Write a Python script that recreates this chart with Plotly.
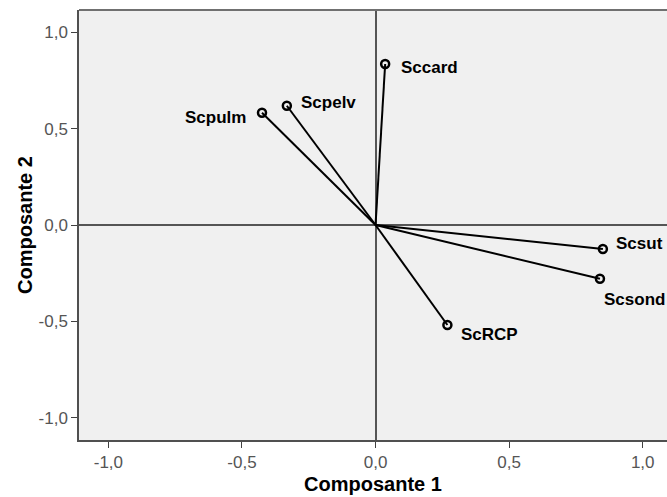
import plotly.graph_objects as go

names = ["Sccard", "Scpelv", "Scpulm", "Scsut", "Scsond", "ScRCP"]
comp1 = [0.036, -0.332, -0.425, 0.851, 0.840, 0.269]
comp2 = [0.836, 0.619, 0.583, -0.125, -0.279, -0.519]
tick_vals = [-1.0, -0.5, 0.0, 0.5, 1.0]
tick_text = ["-1,0", "-0,5", "0,0", "0,5", "1,0"]

# label placement (anchor, pixel shifts)
label_pos = {
    "Sccard": ("left", "middle", 14, -4),
    "Scpelv": ("left", "middle", 12, 3),
    "Scpulm": ("right", "middle", -14, -5),
    "Scsut": ("left", "middle", 11, 6),
    "Scsond": ("left", "top", 2, -9),
    "ScRCP": ("left", "middle", 12, -10),
}

fig = go.Figure()

lx, ly = [], []
for a, b in zip(comp1, comp2):
    lx += [0, a, None]
    ly += [0, b, None]
fig.add_trace(go.Scatter(x=lx, y=ly, mode="lines",
                         line=dict(color="black", width=2),
                         hoverinfo="skip", showlegend=False))
fig.add_trace(go.Scatter(x=comp1, y=comp2, mode="markers",
                         marker=dict(symbol="circle-open", size=8,
                                     color="black", line=dict(width=2.5, color="black")),
                         text=names, showlegend=False))

for n, a, b in zip(names, comp1, comp2):
    xa, ya, dx, dy = label_pos[n]
    fig.add_annotation(x=a, y=b, text=n, showarrow=False,
                       xanchor=xa, yanchor=ya, xshift=dx, yshift=dy,
                       font=dict(family="Liberation Sans, Arial", size=17, color="black",
                                 weight="bold"))

axis_common = dict(
    tickvals=tick_vals, ticktext=tick_text,
    ticks="outside", ticklen=6, tickwidth=1.2, tickcolor="#404040",
    tickfont=dict(family="Liberation Sans, Arial", size=17, color="#555555"),
    showgrid=False, zeroline=True, zerolinecolor="#555555", zerolinewidth=1.5,
    showline=True, linecolor="#505050", linewidth=1.5, mirror=False,
)

# top border of plot frame
fig.add_shape(type="line", xref="paper", yref="paper", x0=0, x1=1, y0=1, y1=1,
              line=dict(color="#707070", width=2))

fig.update_layout(
    width=667, height=497,
    margin=dict(l=79, r=0, t=10, b=57),
    paper_bgcolor="white", plot_bgcolor="#f0f0f0",
    xaxis=dict(range=[-1.11, 1.091],
               title=dict(text="<b>Composante 1</b>", standoff=6,
                          font=dict(family="Liberation Sans, Arial", size=20, color="black")),
               **axis_common),
    yaxis=dict(range=[-1.116, 1.116],
               title=dict(text="<b>Composante 2</b>", standoff=1,
                          font=dict(family="Liberation Sans, Arial", size=20, color="black")),
               **axis_common),
)

fig.write_html("out.html", config={"displayModeBar": False},
               post_script="document.body.style.margin='0';document.body.style.overflow='hidden';")
